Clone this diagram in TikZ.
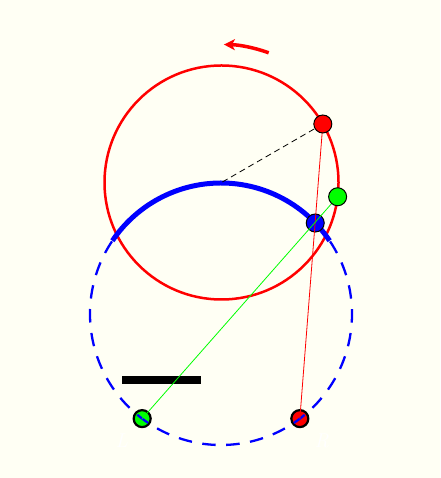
\documentclass[tikz,border=0pt]{standalone}
\usetikzlibrary{calc,arrows.meta}
\definecolor{bgcream}{RGB}{255,255,244}
\begin{document}
\begin{tikzpicture}[x=1pt,y=1pt,
  dot/.style={circle,draw=black,minimum size=18pt,inner sep=0pt,line width=1pt},
  botdot/.style={circle,draw=black,minimum size=17pt,inner sep=0pt,line width=2.2pt},
  lbl/.style={text=white,font=\fontsize{20}{20}\selectfont\itshape}]
\fill[bgcream] (0,0) rectangle (440,478);
\useasboundingbox (0,0) rectangle (440,478);
\coordinate (rc) at (221.5,295.5);
\coordinate (bc) at (221,164);
% red circle
\draw[red,line width=2.5pt] (rc) circle (117);
% rotation arrow
\draw[red,line width=3.5pt,-{Stealth[length=11pt,width=11pt,inset=3pt]}] ($(rc)+(70:138)$) arc (70:89:138);
% thick blue arc
\draw[blue,line width=5pt] ($(bc)+(34:131)$) arc (34:146:131);
% nodes
\node[dot,fill=blue] (B) at ($(bc)+(44:131)$) {};
\node[botdot,fill=green] (GL) at ($(bc)+(-127:131)$) {};
\node[botdot,fill=red] (RL) at ($(bc)+(-53:131)$) {};
% dashed circle
\draw[blue,line width=2.3pt,dash pattern=on 13.5pt off 10.5pt,dash phase=23.25pt] ($(bc)+(146:131)$) arc (146:394:131);
\node[lbl] (L) at (121.7,37) {L};
\node[lbl] (Rl) at (321.7,37) {R};
% bar
\fill[black] (122,94) rectangle (201,101.5);
% lines
\node[dot,fill=red,draw=none] (RT0) at ($(rc)+(30:117)$) {};
\node[dot,fill=green,draw=none] (GT0) at ($(rc)+(-7:117)$) {};
\draw[black,line width=0.8pt,dash pattern=on 6pt off 4pt] (RT0.center) -- (rc);
\draw[red,line width=0.8pt] (RT0.center) -- (RL.center);
\draw[green,line width=0.8pt] (GT0.center) -- (GL.center);
\node[dot,fill=red] (RT) at (RT0) {};
\node[dot,fill=green] (GT) at (GT0) {};
\end{tikzpicture}
\end{document}
